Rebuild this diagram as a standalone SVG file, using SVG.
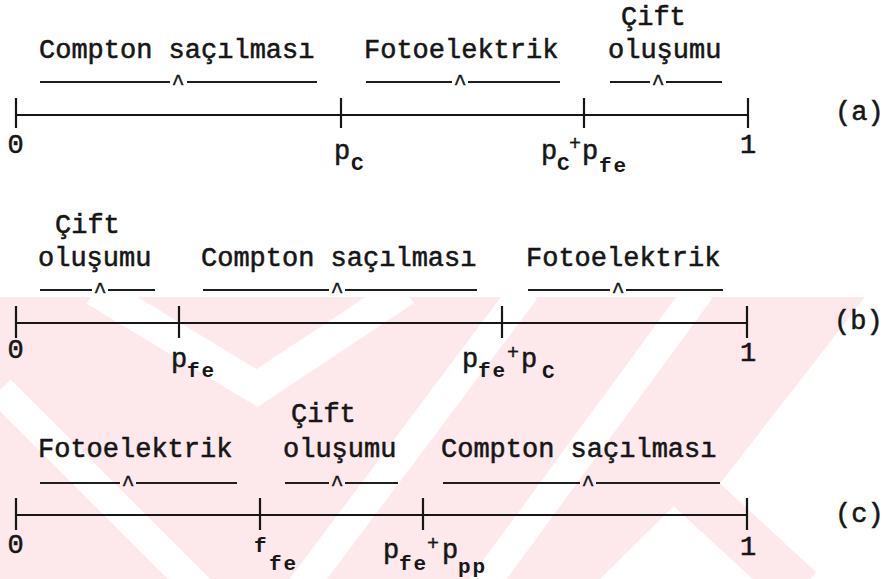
<svg xmlns="http://www.w3.org/2000/svg" width="887" height="579" viewBox="0 0 887 579">
  <style>
    text { font-family: "Liberation Mono", "DejaVu Sans Mono", monospace; fill: #161616; }
    .lbl { font-size: 27px; stroke: #161616; stroke-width: 0.55; }
    .sub { font-size: 21px; letter-spacing: 2px; font-weight: bold; }
    .plus { font-size: 20px; stroke: #161616; stroke-width: 0.4; }
    .caret { font-size: 22px; text-anchor: middle; stroke: #161616; stroke-width: 0.4; }
    .mid { text-anchor: middle; }
    .axis { stroke: #161616; stroke-width: 2.2; fill: none; }
    .ul { stroke: #1e1e1e; stroke-width: 2.1; fill: none; }
    .wm { fill: #fde8eb; }
    .wmgap { stroke: #ffffff; fill: none; stroke-linejoin: miter; }
  </style>
  <defs>
    <clipPath id="lowerHalf">
      <rect x="0" y="297" width="887" height="282"/>
    </clipPath>
  </defs>

  <rect width="887" height="579" fill="#ffffff"/>

  <!-- faint background emblem -->
  <g id="watermark" clip-path="url(#lowerHalf)">
    <polygon class="wm" points="0,297 865,297 715,490 690,490 600,579 0,579"/>
    <line x1="670" y1="470" x2="800" y2="590" stroke="#fde8eb" stroke-width="48"/>
    <polyline class="wmgap" stroke-width="32" points="95,290 257,388 405,290"/>
    <line class="wmgap" stroke-width="30" x1="0" y1="390" x2="220" y2="610"/>
    <line class="wmgap" stroke-width="30" x1="300" y1="590" x2="525" y2="290"/>
    <line class="wmgap" stroke-width="30" x1="480" y1="590" x2="700" y2="290"/>
    <line class="wmgap" stroke-width="26" x1="683" y1="525" x2="620" y2="590"/>
  </g>

  <!-- scale lines and tick marks -->
  <g id="connectors">
    <g transform="translate(0,115)">
      <path class="axis" d="M16,0 H748 M16,-17 V13 M341,-17 V13 M584,-17 V13 M748,-17 V13"/>
    </g>
    <g transform="translate(0,323)">
      <path class="axis" d="M16,0 H747 M16,-17 V15 M179,-17 V15 M502,-17 V15 M747,-17 V15"/>
    </g>
    <g transform="translate(0,515)">
      <path class="axis" d="M16,0 H747 M16,-17 V15 M260,-17 V15 M423,-17 V15 M747,-17 V15"/>
    </g>
  </g>

  <!-- (a) -->
  <g id="panel-a" transform="translate(0,115)">
    <g id="a-compton">
      <text class="lbl" x="39" y="-57">Compton saçılması</text>
      <path class="ul" d="M40,-33 H170 M187,-33 H317"/>
      <text class="caret" x="178" y="-25">^</text>
    </g>
    <g id="a-foto">
      <text class="lbl" x="364" y="-57">Fotoelektrik</text>
      <path class="ul" d="M366,-33 H452 M468,-33 H560"/>
      <text class="caret" x="460" y="-25">^</text>
    </g>
    <g id="a-cift">
      <text class="lbl" x="621" y="-90">Çift</text>
      <text class="lbl" x="608" y="-57">oluşumu</text>
      <path class="ul" d="M610,-33 H650 M666,-33 H722"/>
      <text class="caret" x="658" y="-25">^</text>
    </g>
    <g id="a-tick-0"><text class="lbl mid" x="15.5" y="38">0</text></g>
    <g id="a-tick-pc">
      <text class="lbl" x="334" y="44">p</text>
      <text class="sub" x="351" y="55">C</text>
    </g>
    <g id="a-tick-pcpfe">
      <text class="lbl" x="541" y="44">p</text>
      <text class="sub" x="557" y="55">C</text>
      <text class="plus" x="569" y="35">+</text>
      <text class="lbl" x="582" y="44">p</text>
      <text class="sub" x="599" y="57">fe</text>
    </g>
    <g id="a-tick-1"><text class="lbl mid" x="748" y="38">1</text></g>
    <g id="a-tag"><text class="lbl" x="835" y="5">(a)</text></g>
  </g>

  <!-- (b) -->
  <g id="panel-b" transform="translate(0,323)">
    <g id="b-cift">
      <text class="lbl" x="55" y="-90">Çift</text>
      <text class="lbl" x="38" y="-57">oluşumu</text>
      <path class="ul" d="M40,-33 H92 M108,-33 H155"/>
      <text class="caret" x="100" y="-25">^</text>
    </g>
    <g id="b-compton">
      <text class="lbl" x="201" y="-57">Compton saçılması</text>
      <path class="ul" d="M203,-33 H329 M345,-33 H477"/>
      <text class="caret" x="337" y="-25">^</text>
    </g>
    <g id="b-foto">
      <text class="lbl" x="526" y="-57">Fotoelektrik</text>
      <path class="ul" d="M528,-33 H610 M626,-33 H723"/>
      <text class="caret" x="618" y="-25">^</text>
    </g>
    <g id="b-tick-0"><text class="lbl mid" x="15.5" y="35">0</text></g>
    <g id="b-tick-pfe">
      <text class="lbl" x="171" y="44">p</text>
      <text class="sub" x="187" y="54">fe</text>
    </g>
    <g id="b-tick-pfepc">
      <text class="lbl" x="462" y="44">p</text>
      <text class="sub" x="478" y="54">fe</text>
      <text class="plus" x="507" y="36">+</text>
      <text class="lbl" x="521" y="44">p</text>
      <text class="sub" x="542" y="55">C</text>
    </g>
    <g id="b-tick-1"><text class="lbl mid" x="748" y="38">1</text></g>
    <g id="b-tag"><text class="lbl" x="834" y="6">(b)</text></g>
  </g>

  <!-- (c) -->
  <g id="panel-c" transform="translate(0,515)">
    <g id="c-foto">
      <text class="lbl" x="38" y="-58">Fotoelektrik</text>
      <path class="ul" d="M40,-32 H120 M136,-32 H237"/>
      <text class="caret" x="128" y="-24">^</text>
    </g>
    <g id="c-cift">
      <text class="lbl" x="291" y="-93">Çift</text>
      <text class="lbl" x="283" y="-58">oluşumu</text>
      <path class="ul" d="M285,-32 H329 M345,-32 H398"/>
      <text class="caret" x="337" y="-24">^</text>
    </g>
    <g id="c-compton">
      <text class="lbl" x="441" y="-58">Compton saçılması</text>
      <path class="ul" d="M443,-32 H580 M596,-32 H720"/>
      <text class="caret" x="588" y="-24">^</text>
    </g>
    <g id="c-tick-0"><text class="lbl mid" x="15.5" y="38">0</text></g>
    <g id="c-tick-ffe">
      <text class="sub" x="254" y="37">f</text>
      <text class="sub" x="269" y="55">fe</text>
    </g>
    <g id="c-tick-pfeppp">
      <text class="lbl" x="383" y="43">p</text>
      <text class="sub" x="399" y="55">fe</text>
      <text class="plus" x="427" y="35">+</text>
      <text class="lbl" x="442" y="43">p</text>
      <text class="sub" x="458" y="58">pp</text>
    </g>
    <g id="c-tick-1"><text class="lbl mid" x="748" y="40">1</text></g>
    <g id="c-tag"><text class="lbl" x="835" y="7">(c)</text></g>
  </g>
</svg>
